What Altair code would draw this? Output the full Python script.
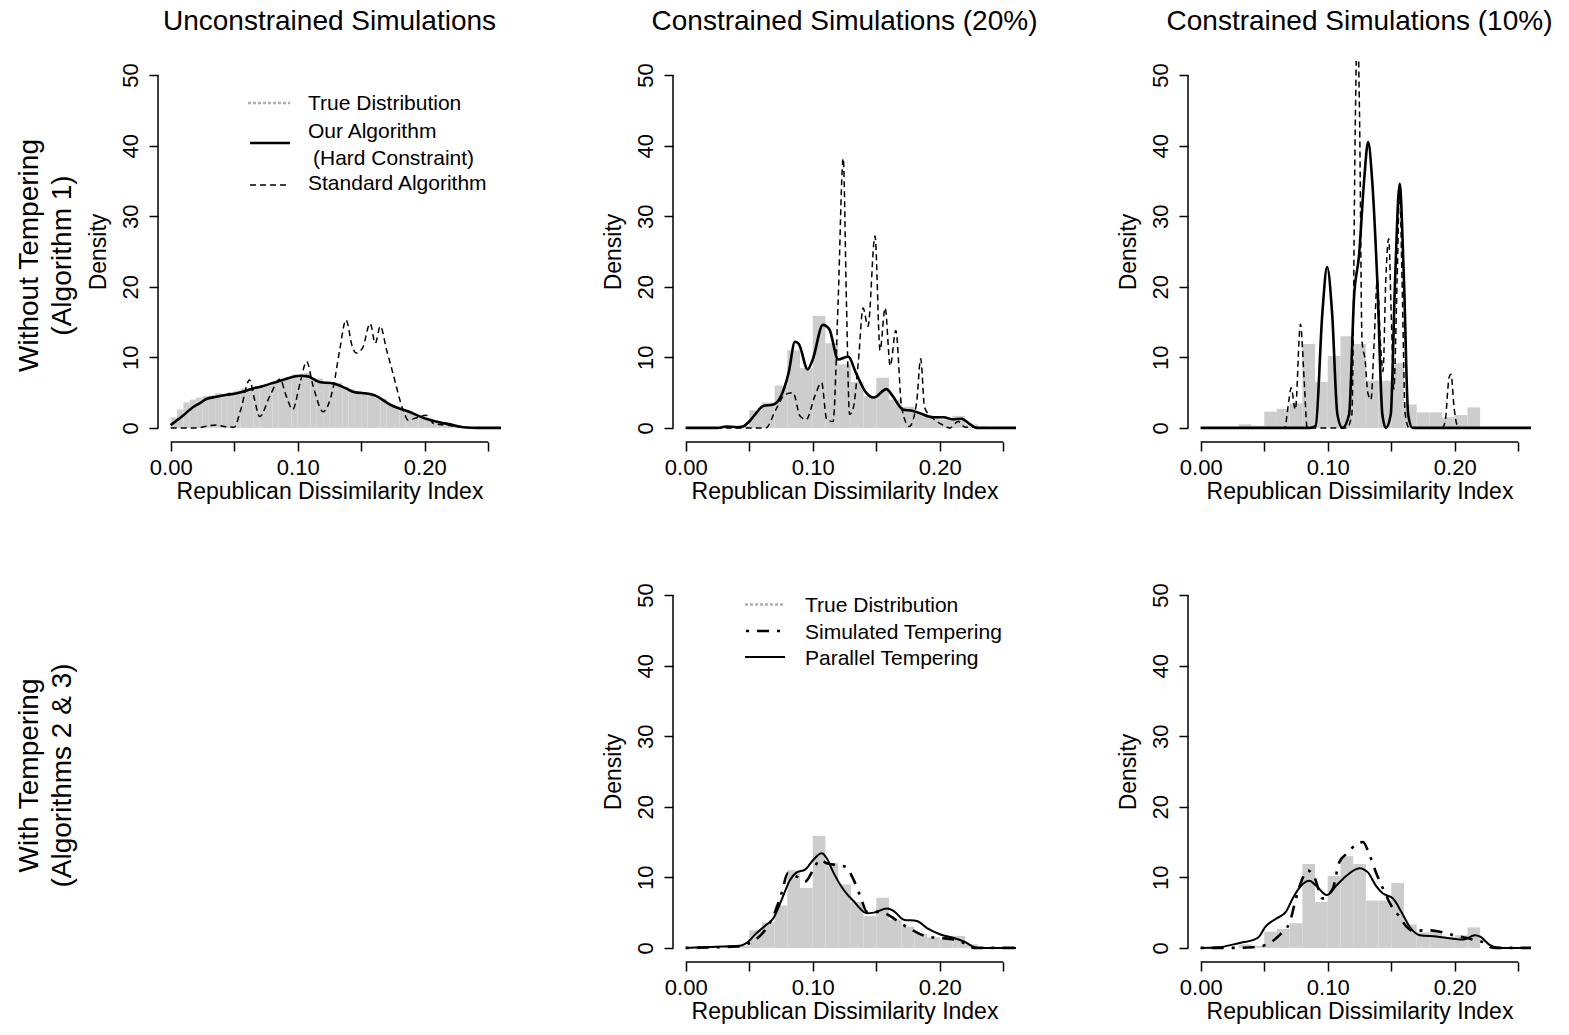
import json
import altair as alt
import pandas as pd

FONT = "Liberation Sans"

# ---------------- layout / axis constants ----------------
X_DOMAIN = [-0.01, 0.26]
Y_DOMAIN = [-2, 52]
X_TICKS = [0.0, 0.05, 0.10, 0.15, 0.20, 0.25]
X_LABELED = ["0.00", "0.10", "0.20"]
Y_TICKS = [0, 10, 20, 30, 40, 50]
X_AXIS_SPAN = [0.0, 0.25]
Y_AXIS_SPAN = [0, 50]
PW, PH = 343, 381

COL_TITLES = ["Unconstrained Simulations", "Constrained Simulations (20%)",
              "Constrained Simulations (10%)"]
ROW1_LABEL = ["Without Tempering", "(Algorithm 1)"]
ROW2_LABEL = ["With Tempering", "(Algorithms 2 & 3)"]
X_TITLE = "Republican Dissimilarity Index"
Y_TITLE = "Density"

# ---------------- true distributions (histograms) ----------------
P1_TRUE_EDGES = [0.000, 0.005, 0.010, 0.015, 0.020, 0.025, 0.030, 0.035, 0.040, 0.045,
                 0.050, 0.055, 0.060, 0.065, 0.070, 0.075, 0.080, 0.085, 0.090, 0.095,
                 0.100, 0.105, 0.110, 0.115, 0.120, 0.125, 0.130, 0.135, 0.140, 0.145,
                 0.150, 0.155, 0.160, 0.165, 0.170, 0.175, 0.180, 0.185, 0.190, 0.195,
                 0.200, 0.205, 0.210, 0.215, 0.220, 0.225, 0.230, 0.235, 0.240, 0.245]
P1_TRUE_DENSITY = [1.5, 2.6, 3.6, 4.0, 4.3, 4.5, 4.6, 4.9, 4.7, 5.1,
                   5.3, 5.6, 5.4, 5.9, 6.1, 6.0, 6.5, 7.0, 7.2, 7.6,
                   7.3, 7.8, 6.9, 7.0, 6.5, 6.2, 6.4, 5.8, 5.5, 5.2,
                   4.8, 4.9, 4.3, 4.1, 3.4, 3.0, 2.6, 2.3, 1.9, 1.6,
                   1.3, 1.1, 0.8, 0.6, 0.5, 0.3, 0.2, 0.1, 0.05]

C20_TRUE_EDGES = [0.03, 0.04, 0.05, 0.06, 0.07, 0.08, 0.09, 0.10, 0.11, 0.12, 0.13,
                  0.14, 0.15, 0.16, 0.17, 0.18, 0.19, 0.20, 0.21, 0.22, 0.23]
C20_TRUE_DENSITY = [0.2, 0.3, 2.5, 3.6, 6.0, 11.0, 8.5, 15.9, 12.0, 9.0,
                    6.5, 4.5, 7.1, 4.0, 3.0, 2.0, 1.5, 1.2, 1.7, 0.5]

C10_TRUE_EDGES = [0.03, 0.04, 0.05, 0.06, 0.07, 0.08, 0.09, 0.10, 0.11, 0.12,
                  0.13, 0.14, 0.15, 0.16, 0.17, 0.18, 0.19, 0.20, 0.21, 0.22]
C10_TRUE_DENSITY = [0.5, 0.3, 2.3, 2.7, 3.5, 11.9, 6.5, 10.2, 13.0, 11.9,
                    6.7, 6.7, 9.2, 3.3, 2.2, 2.2, 1.5, 1.8, 2.9]

# ---------------- simulated densities ----------------
P1_OUR_X = [0.000, 0.010, 0.018, 0.023, 0.028, 0.036, 0.044, 0.049, 0.060, 0.065, 0.070,
            0.081, 0.090, 0.102, 0.108, 0.117, 0.128, 0.138, 0.144, 0.157, 0.162, 0.170,
            0.175, 0.186, 0.201, 0.214, 0.220, 0.228, 0.233, 0.241, 0.260]
P1_OUR_Y = [0.4, 1.8, 3.0, 3.5, 4.1, 4.4, 4.7, 4.8, 5.3, 5.6, 5.8,
            6.4, 6.9, 7.4, 7.3, 6.5, 6.3, 5.6, 5.1, 4.8, 4.5, 3.6,
            3.1, 2.4, 1.3, 0.7, 0.5, 0.15, 0.05, 0.0, 0.0]

P1_STD_X = [0.000, 0.020, 0.030, 0.036, 0.042, 0.050, 0.055, 0.062, 0.066, 0.070, 0.078,
            0.086, 0.091, 0.096, 0.102, 0.107, 0.112, 0.120, 0.128, 0.133, 0.138, 0.143,
            0.146, 0.151, 0.157, 0.161, 0.165, 0.170, 0.175, 0.183, 0.187, 0.193, 0.201,
            0.207, 0.217, 0.225, 0.240, 0.260]
P1_STD_Y = [0.0, 0.0, 0.3, 0.4, 0.2, 0.1, 2.5, 6.8, 4.0, 1.6, 4.5,
            6.9, 4.5, 2.6, 6.5, 9.4, 6.0, 2.3, 5.8, 11.0, 15.3, 11.5,
            10.6, 11.3, 14.8, 12.0, 14.4, 11.0, 7.7, 2.5, 1.1, 1.4, 1.8,
            0.6, 0.4, 0.2, 0.0, 0.0]

P2_OUR_X = [0.000, 0.025, 0.032, 0.040, 0.045, 0.050, 0.055, 0.061, 0.069, 0.075, 0.081,
            0.086, 0.089, 0.096, 0.100, 0.108, 0.113, 0.120, 0.128, 0.134, 0.142, 0.148,
            0.158, 0.163, 0.171, 0.179, 0.184, 0.195, 0.203, 0.2105, 0.217, 0.224, 0.229,
            0.260]
P2_OUR_Y = [0.0, 0.0, 0.2, 0.1, 0.2, 0.9, 2.0, 3.1, 3.3, 4.5, 7.8,
            12.2, 11.9, 8.3, 9.7, 14.6, 14.0, 9.7, 10.1, 7.8, 5.0, 4.3,
            5.5, 4.5, 2.6, 2.4, 2.1, 1.5, 1.5, 1.2, 1.3, 0.5, 0.0,
            0.0]

P2_STD_X = [0.000, 0.063, 0.071, 0.078, 0.0845, 0.090, 0.095, 0.1016, 0.107, 0.111, 0.116,
            0.120, 0.124, 0.1265, 0.129, 0.132, 0.136, 0.1396, 0.1435, 0.149, 0.153, 0.157,
            0.161, 0.1654, 0.170, 0.176, 0.1817, 0.185, 0.188, 0.195, 0.2026, 0.208, 0.2145,
            0.220, 0.260]
P2_STD_Y = [0.0, 0.0, 2.6, 4.7, 5.0, 1.7, 1.2, 4.5, 6.4, 1.2, 0.9,
            18.0, 38.2, 18.0, 1.9, 2.9, 9.6, 17.0, 14.4, 27.2, 11.0, 17.0,
            8.8, 13.8, 2.9, 0.2, 3.5, 9.8, 2.9, 1.3, 0.4, 0.0, 0.9,
            0.1, 0.0]

P3_OUR_X = [0.000, 0.086, 0.0905, 0.0957, 0.0995, 0.1035, 0.1076, 0.1115, 0.1168, 0.1207,
            0.1247, 0.1286, 0.1318, 0.135, 0.139, 0.143, 0.1457, 0.1496, 0.153, 0.1566,
            0.160, 0.1633, 0.1667, 0.260]
P3_OUR_Y = [0.0, 0.0, 0.3, 16.1, 22.8, 16.1, 1.9, 0.0, 1.9, 18.5,
            24.6, 35.0, 40.5, 35.0, 20.9, 1.9, 0.0, 1.9, 20.9, 34.6,
            20.9, 1.9, 0.0, 0.0]

P3_STD_X = [0.000, 0.066, 0.0695, 0.0712, 0.0745, 0.0785, 0.0815, 0.0838, 0.115, 0.119,
            0.1218, 0.1233, 0.125, 0.127, 0.1295, 0.1315, 0.134, 0.1365, 0.139, 0.1415,
            0.1435, 0.1457, 0.148, 0.150, 0.152, 0.1546, 0.1566, 0.1585, 0.161, 0.164,
            0.190, 0.1924, 0.1955, 0.197, 0.1995, 0.2016, 0.204, 0.260]
P3_STD_Y = [0.0, 0.0, 4.0, 5.7, 2.6, 14.7, 6.6, 0.0, 0.0, 1.9,
            44.6, 58.0, 44.6, 12.3, 9.5, 5.0, 4.0, 12.0, 21.0, 12.0,
            8.0, 21.0, 26.8, 16.0, 5.5, 20.9, 34.0, 20.9, 1.9, 0.0,
            0.0, 0.9, 7.1, 7.6, 2.8, 0.5, 0.0, 0.0]

P5_PT_X = [0.000, 0.011, 0.0426, 0.048, 0.0558, 0.0637, 0.069, 0.0755, 0.082, 0.0874,
           0.094, 0.1005, 0.107, 0.111, 0.1165, 0.1244, 0.1323, 0.1428, 0.148, 0.1586,
           0.1638, 0.1717, 0.182, 0.190, 0.2005, 0.211, 0.219, 0.2296, 0.260]
P5_PT_Y = [0.0, 0.1, 0.3, 0.7, 2.1, 3.3, 4.2, 6.8, 9.6, 10.7,
           11.1, 12.5, 13.4, 12.7, 10.6, 8.2, 6.6, 4.9, 5.0, 5.6,
           5.2, 4.0, 3.8, 2.8, 1.9, 1.4, 0.9, 0.0, 0.0]

P5_ST_X = [0.000, 0.040, 0.048, 0.069, 0.0755, 0.0805, 0.0874, 0.094, 0.1005, 0.1057,
           0.111, 0.1165, 0.1257, 0.1323, 0.1375, 0.1428, 0.153, 0.161, 0.169, 0.1795,
           0.190, 0.2005, 0.211, 0.219, 0.227, 0.260]
P5_ST_Y = [0.0, 0.2, 0.5, 4.5, 7.8, 10.6, 10.1, 9.4, 11.1, 12.5,
           12.0, 11.8, 11.5, 9.6, 7.3, 5.1, 5.1, 4.5, 3.5, 2.4,
           1.6, 1.4, 1.2, 0.7, 0.0, 0.0]

P6_PT_X = [0.000, 0.0145, 0.026, 0.033, 0.041, 0.046, 0.051, 0.059, 0.067, 0.0724,
           0.079, 0.0856, 0.091, 0.0992, 0.1066, 0.1145, 0.125, 0.1316, 0.138, 0.1435,
           0.1514, 0.158, 0.1645, 0.1724, 0.1856, 0.1988, 0.2067, 0.2159, 0.220, 0.2277,
           0.2356, 0.260]
P6_PT_Y = [0.0, 0.1, 0.5, 0.8, 1.1, 1.6, 3.0, 4.1, 5.1, 7.0,
           8.8, 9.5, 8.8, 7.5, 8.8, 10.2, 11.3, 10.7, 8.8, 7.7,
           7.0, 5.1, 3.0, 1.8, 1.6, 1.3, 1.2, 1.8, 1.6, 0.4,
           0.0, 0.0]

P6_ST_X = [0.000, 0.026, 0.041, 0.051, 0.062, 0.070, 0.075, 0.080, 0.084, 0.0895,
           0.096, 0.104, 0.109, 0.116, 0.1224, 0.1277, 0.133, 0.138, 0.1448, 0.150,
           0.1566, 0.162, 0.167, 0.1777, 0.1883, 0.1988, 0.2093, 0.216, 0.2225, 0.228,
           0.232, 0.260]
P6_ST_Y = [0.0, 0.0, 0.1, 0.4, 1.8, 3.6, 7.0, 9.8, 11.0, 10.0,
           7.0, 8.4, 12.1, 13.5, 14.7, 15.0, 13.1, 10.7, 7.9, 6.0,
           4.4, 3.0, 2.4, 2.5, 2.3, 1.8, 1.4, 1.1, 0.8, 0.1,
           0.0, 0.0]

# ---------------- styles ----------------
GRAY_FILL = "#cdcdcd"
GRAY_LINE = "#b0b0b0"
STYLE_OUR = dict(color="black", strokeWidth=2.6)
STYLE_STD = dict(color="black", strokeWidth=1.5, strokeDash=[6, 4])
STYLE_PT = dict(color="black", strokeWidth=2.0)
STYLE_ST = dict(color="black", strokeWidth=2.6, strokeDash=[3, 8, 12, 8])
STYLE_TRUE_KEY = dict(color=GRAY_LINE, strokeWidth=2.5, strokeDash=[3, 2])

# ---------------- scales / axes ----------------
xs = alt.Scale(domain=X_DOMAIN, nice=False, zero=False)
ys = alt.Scale(domain=Y_DOMAIN, nice=False, zero=False)

label_expr = ("indexof(%s, format(datum.value, '.2f')) >= 0 ? format(datum.value, '.2f') : ''"
              % json.dumps(X_LABELED).replace('"', "'"))

x_axis = alt.Axis(values=X_TICKS, labelExpr=label_expr, tickSize=9, tickWidth=1.5,
                  tickColor="black", domain=False, grid=False, labelFont=FONT,
                  labelFontSize=22, labelColor="black", labelPadding=6, labelFlush=False,
                  labelOverlap=False, title=X_TITLE, titleFont=FONT, titleFontSize=23,
                  titleFontWeight="normal", titleColor="black", titleBaseline="alphabetic",
                  titleAlign="center", titleX=PW / 2, titleY=56)
y_axis = alt.Axis(values=Y_TICKS, tickSize=9, tickWidth=1.5, tickColor="black",
                  domain=False, grid=False, labelFont=FONT, labelFontSize=22,
                  labelColor="black", labelAngle=270, labelAlign="center",
                  labelBaseline="alphabetic", labelPadding=12, labelFlush=False,
                  labelOverlap=False, title=Y_TITLE, titleFont=FONT, titleFontSize=23,
                  titleFontWeight="normal", titleColor="black", titleAngle=270,
                  titleAlign="center", titleBaseline="alphabetic", titleX=-53,
                  titleY=PH / 2)


def hist_layer(edges, dens):
    df = pd.DataFrame({"x0": edges[:-1], "x1": edges[1:], "d": dens})
    return alt.Chart(df).mark_rect(color=GRAY_FILL, clip=True).encode(
        x=alt.X("x0:Q", scale=xs, axis=x_axis),
        x2="x1:Q",
        y=alt.Y("d:Q", scale=ys, axis=y_axis),
        y2=alt.datum(0),
    )


def line_layer(xv, yv, style):
    df = pd.DataFrame({"x": xv, "y": yv})
    return alt.Chart(df).mark_line(interpolate="monotone", clip=True, **style).encode(
        x=alt.X("x:Q", scale=xs, axis=x_axis),
        y=alt.Y("y:Q", scale=ys, axis=y_axis),
    )


def axis_lines():
    dfx = pd.DataFrame({"a": [X_AXIS_SPAN[0]], "b": [X_AXIS_SPAN[1]]})
    dfy = pd.DataFrame({"a": [Y_AXIS_SPAN[0]], "b": [Y_AXIS_SPAN[1]]})
    xl = alt.Chart(dfx).mark_rule(color="black", strokeWidth=1.5).encode(
        x=alt.X("a:Q", scale=xs, axis=x_axis), x2="b:Q", y=alt.value(PH))
    yl = alt.Chart(dfy).mark_rule(color="black", strokeWidth=1.5).encode(
        y=alt.Y("a:Q", scale=ys, axis=y_axis), y2="b:Q", x=alt.value(0))
    return [xl, yl]


def text_layer(txt, x, y, size, angle=0, align="center", baseline="middle"):
    return alt.Chart(pd.DataFrame({"t": [txt]})).mark_text(
        font=FONT, fontSize=size, angle=angle, align=align, baseline=baseline,
        color="black").encode(text="t:N", x=alt.value(x), y=alt.value(y))


def key_line(x1, x2, y, style):
    return alt.Chart(pd.DataFrame({"k": [0]})).mark_rule(**style).encode(
        x=alt.value(x1), x2=alt.value(x2), y=alt.value(y))


def row_label(lines):
    return [text_layer(lines[0], -128, PH / 2 + 4, 28, angle=270),
            text_layer(lines[1], -95, PH / 2 + 4, 28, angle=270)]


def title(txt):
    return alt.TitleParams(text=txt, font=FONT, fontSize=28, fontWeight="normal",
                           color="black", anchor="middle", frame="group", offset=3,
                           baseline="alphabetic")


# ---------------- panels ----------------
legend1 = [
    key_line(90, 132, 42, STYLE_TRUE_KEY),
    text_layer("True Distribution", 150, 43, 21, align="left"),
    key_line(92, 132, 82, STYLE_OUR),
    text_layer("Our Algorithm", 150, 71, 21, align="left"),
    text_layer("(Hard Constraint)", 155, 98, 21, align="left"),
    key_line(92, 128, 124, STYLE_STD),
    text_layer("Standard Algorithm", 150, 123, 21, align="left"),
]
legend2 = [
    key_line(72, 112, 23.5, STYLE_TRUE_KEY),
    text_layer("True Distribution", 132, 24.5, 21, align="left"),
    key_line(73, 112, 50, STYLE_ST),
    text_layer("Simulated Tempering", 132, 51.5, 21, align="left"),
    key_line(72, 112, 76, STYLE_PT),
    text_layer("Parallel Tempering", 132, 77.5, 21, align="left"),
]

p1 = alt.layer(
    hist_layer(P1_TRUE_EDGES, P1_TRUE_DENSITY),
    line_layer(P1_STD_X, P1_STD_Y, STYLE_STD),
    line_layer(P1_OUR_X, P1_OUR_Y, STYLE_OUR),
    *axis_lines(), *legend1, *row_label(ROW1_LABEL),
).properties(width=PW, height=PH, title=title(COL_TITLES[0]))

p2 = alt.layer(
    hist_layer(C20_TRUE_EDGES, C20_TRUE_DENSITY),
    line_layer(P2_STD_X, P2_STD_Y, STYLE_STD),
    line_layer(P2_OUR_X, P2_OUR_Y, STYLE_OUR),
    *axis_lines(),
).properties(width=PW, height=PH, title=title(COL_TITLES[1]))

p3 = alt.layer(
    hist_layer(C10_TRUE_EDGES, C10_TRUE_DENSITY),
    line_layer(P3_STD_X, P3_STD_Y, STYLE_STD),
    line_layer(P3_OUR_X, P3_OUR_Y, STYLE_OUR),
    *axis_lines(),
).properties(width=PW, height=PH, title=title(COL_TITLES[2]))

p4 = alt.layer(*row_label(ROW2_LABEL)).properties(width=PW, height=PH)

p5 = alt.layer(
    hist_layer(C20_TRUE_EDGES, C20_TRUE_DENSITY),
    line_layer(P5_ST_X, P5_ST_Y, STYLE_ST),
    line_layer(P5_PT_X, P5_PT_Y, STYLE_PT),
    *axis_lines(), *legend2,
).properties(width=PW, height=PH)

p6 = alt.layer(
    hist_layer(C10_TRUE_EDGES, C10_TRUE_DENSITY),
    line_layer(P6_ST_X, P6_ST_Y, STYLE_ST),
    line_layer(P6_PT_X, P6_PT_Y, STYLE_PT),
    *axis_lines(),
).properties(width=PW, height=PH)

chart = alt.concat(
    p1, p2, p3, p4, p5, p6, columns=3, bounds="flush",
    spacing=alt.RowColnumber(row=139, column=172),
).properties(
    padding={"left": 16, "top": 8, "right": 5, "bottom": 5},
    background="white",
).configure_view(stroke=None)

chart.save("out.html", embed_options={"renderer": "svg", "actions": False})
